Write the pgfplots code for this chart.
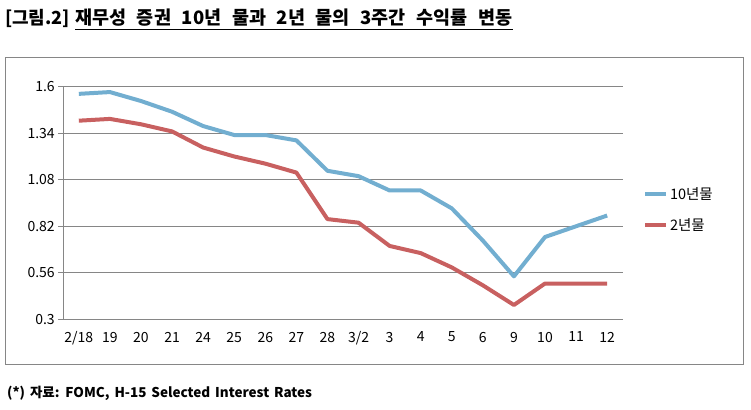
\documentclass[border=0pt]{standalone}
\usepackage{fontspec}
\setmainfont{Noto Sans CJK KR}
\usepackage{pgfplots}
\pgfplotsset{compat=1.18}
\definecolor{tenY}{RGB}{114,174,208}
\definecolor{twoY}{RGB}{200,96,96}
\definecolor{gridc}{RGB}{134,134,134}
\begin{document}
\begin{tikzpicture}
\path[use as bounding box] (0pt,0pt) rectangle (751pt,-409pt);
\draw[gridc, line width=1.2pt] (5.7pt,-57.3pt) rectangle (743.3pt,-364.3pt);
\node[anchor=west, inner sep=0pt, font=\fontsize{18}{20}\selectfont\bfseries] at (5pt,-18pt) {[그림.2]};
\node[anchor=west, inner sep=0pt, font=\fontsize{18.5}{20}\selectfont\bfseries] (t) at (75pt,-18pt) {\spaceskip=0.58em 재무성 증권 10년 물과 2년 물의 3주간 수익률 변동};
\draw[line width=1.4pt] (75pt,-29.3pt) -- (t.east |- 0pt,-29.3pt);
\node[anchor=west, inner sep=0pt, font=\fontsize{13.5}{16}\selectfont\bfseries] at (7pt,-393pt) {\spaceskip=0.36em (*) 자료: FOMC, H-15 Selected Interest Rates};
\begin{axis}[
  at={(63.3pt,-319.3pt)}, anchor=south west,
  scale only axis, width=559.4pt, height=232.6pt,
  xmin=-0.5, xmax=17.5, ymin=0.3, ymax=1.6,
  xtick={0,...,17},
  xticklabels={2/18,19,20,21,24,25,26,27,28,3/2,3,4,5,6,9,10,11,12},
  ytick={0.3,0.56,0.82,1.08,1.34,1.6},
  yticklabels={0.3,0.56,0.82,1.08,1.34,1.6},
  axis lines*=left,
  axis line style={gridc, line width=1pt},
  ymajorgrids, grid style={gridc, line width=1pt},
  x tick style={draw=none},
  y tick style={gridc, line width=1pt},
  tick align=outside, major tick length=5pt,
  ticklabel style={font=\fontsize{14}{16}\selectfont, text=black},
  xticklabel style={yshift=-4pt},
  legend style={at={(1.036,0.472)}, anchor=west, draw=none, fill=none,
    font=\fontsize{14.5}{16}\selectfont, row sep=14pt, inner sep=0pt},
  legend cell align=left,
  legend image code/.code={\draw[#1, line width=4pt] (0pt,0pt) -- (21pt,0pt);},
]
\addplot[tenY, line width=4pt, line join=round] coordinates {
(0,1.56)(1,1.57)(2,1.52)(3,1.46)(4,1.38)(5,1.33)(6,1.33)(7,1.30)(8,1.13)
(9,1.10)(10,1.02)(11,1.02)(12,0.92)(13,0.74)(14,0.54)(15,0.76)(16,0.82)(17,0.88)};
\addlegendentry{10년물}
\addplot[twoY, line width=4pt, line join=round] coordinates {
(0,1.41)(1,1.42)(2,1.39)(3,1.35)(4,1.26)(5,1.21)(6,1.17)(7,1.12)(8,0.86)
(9,0.84)(10,0.71)(11,0.67)(12,0.59)(13,0.49)(14,0.38)(15,0.50)(16,0.50)(17,0.50)};
\addlegendentry{2년물}
\end{axis}
\end{tikzpicture}
\end{document}
